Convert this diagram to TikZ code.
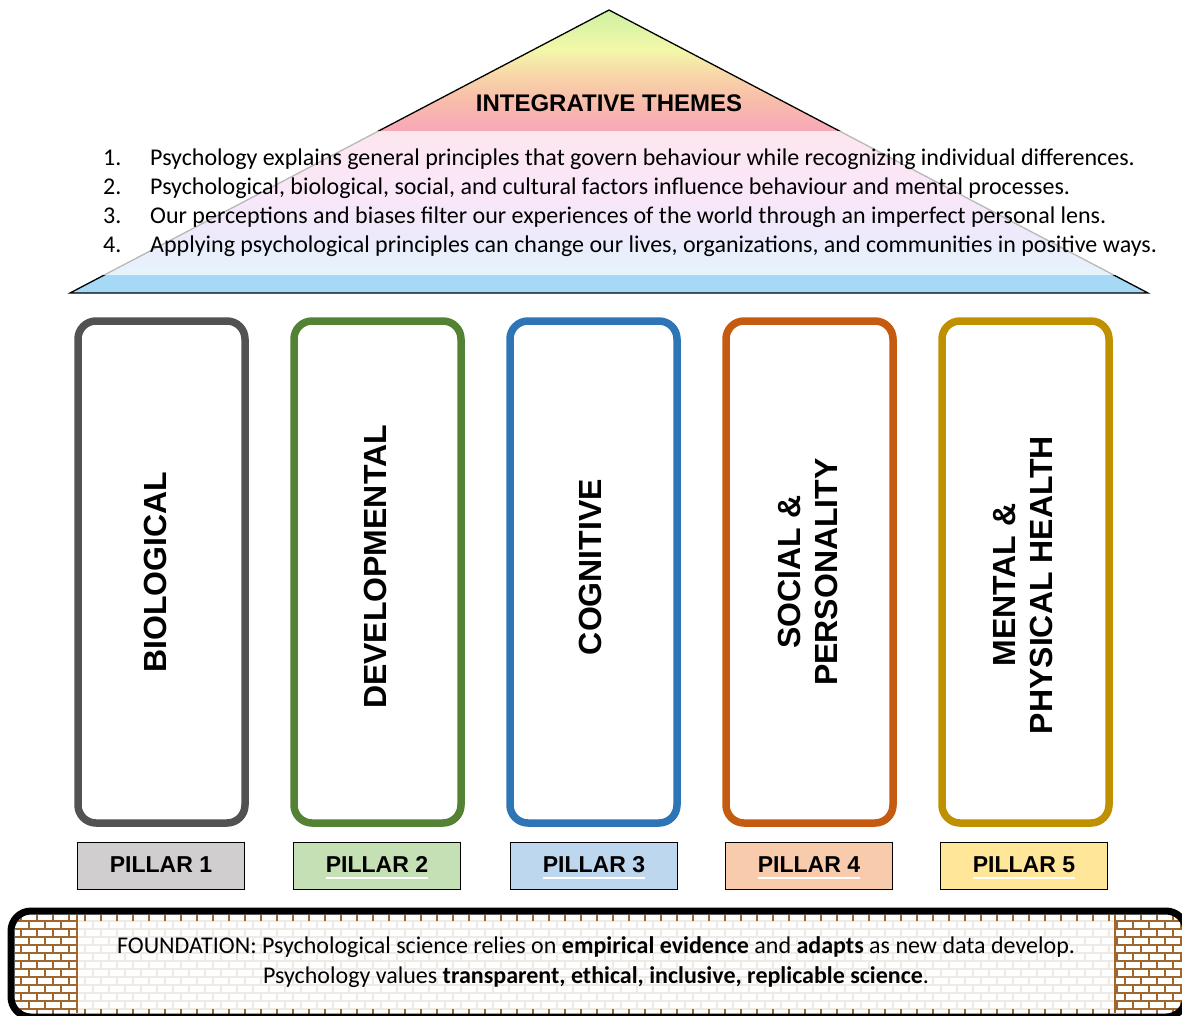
\documentclass[tikz,border=0pt]{standalone}
\usepackage{fontspec}
\setmainfont{Carlito}
\newfontfamily\headfont{Liberation Sans}
\usetikzlibrary{positioning}

\definecolor{roofgreen}{HTML}{CDF0A2}
\definecolor{roofyellow}{HTML}{F3F8A9}
\definecolor{roofpeach}{HTML}{F8D6A8}
\definecolor{roofsalmon}{HTML}{F8BDAA}
\definecolor{roofrose}{HTML}{F8A9B8}
\definecolor{roofpink}{HTML}{F6A6CC}
\definecolor{roofmagenta}{HTML}{F0A8EC}
\definecolor{roofviolet}{HTML}{BDB4F2}
\definecolor{roofblue}{HTML}{A5D9F6}
\definecolor{pillargray}{HTML}{525252}
\definecolor{pillargreen}{HTML}{548235}
\definecolor{pillarblue}{HTML}{2E75B6}
\definecolor{pillarorange}{HTML}{C55A11}
\definecolor{pillargold}{HTML}{BF9000}
\definecolor{taggray}{HTML}{D0CECE}
\definecolor{taggreen}{HTML}{C5E0B4}
\definecolor{tagblue}{HTML}{BDD7EE}
\definecolor{tagorange}{HTML}{F8CBAD}
\definecolor{taggold}{HTML}{FFE699}
\definecolor{brickbrown}{HTML}{A0662B}
\definecolor{brickmortar}{HTML}{F0EAE4}

\pgfdeclareverticalshading{roofshade}{100bp}{%
  color(0bp)=(roofblue); color(28.2bp)=(roofblue);
  color(35bp)=(roofviolet); color(43bp)=(roofmagenta);
  color(52bp)=(roofpink); color(54.2bp)=(roofrose);
  color(59bp)=(roofsalmon); color(63.5bp)=(roofpeach);
  color(68bp)=(roofyellow); color(75bp)=(roofgreen); color(100bp)=(roofgreen)}

% one course of bricks: #1 row, #2 colour
\newcommand{\brickcourse}[2]{%
  \pgfmathtruncatemacro{\brickoff}{8*mod(#1,2)-12}%
  \draw[#2, line width=8pt, dash pattern=on 2pt off 14pt] (\brickoff,917+8*#1) -- (1200,917+8*#1);}

\begin{document}
\begin{tikzpicture}[x=1pt, y=-1pt,
  pillarbox/.style={draw, rounded corners=18pt, line width=7.5pt, minimum width=167pt, minimum height=502pt, inner sep=0pt},
  pillarlabel/.style={rotate=90, align=center, inner sep=0pt, font=\headfont\bfseries\fontsize{32}{36.5}\selectfont},
  tagbox/.style={draw=black, line width=1.5pt, minimum width=167pt, minimum height=47pt, inner sep=0pt},
  tagtext/.style={anchor=base, inner sep=0pt, font=\headfont\bfseries\fontsize{23}{23}\selectfont},
  tagline/.style={white, line width=2pt},
  themeitem/.style={anchor=base west, inner sep=0pt, font=\fontsize{24}{24}\selectfont},
  foundtext/.style={anchor=base, inner sep=0pt, font=\fontsize{24}{24}\selectfont}]

  \useasboundingbox (0,0) rectangle (1182,1015);

  % Roof: shaded triangle with the themes
  \shade[shading=roofshade] (70,293) -- (609,10) -- (1148,293) -- cycle;
  \draw[black, line width=1.3pt] (70,293) -- (609,10) -- (1148,293) -- cycle;
  \fill[white, opacity=0.72] (60,131) rectangle (1172,275);
  \node[anchor=base, inner sep=0pt, font=\headfont\bfseries\fontsize{24}{24}\selectfont] (roofhead) at (609,111.5) {INTEGRATIVE THEMES};

  \node[themeitem] (num1) at (103,165) {1.};
  \node[themeitem] (item1) at (150,165) {Psychology explains general principles that govern behaviour while recognizing individual differences.};
  \node[themeitem] (num2) at (103,194) {2.};
  \node[themeitem] (item2) at (150,194) {Psychological, biological, social, and cultural factors influence behaviour and mental processes.};
  \node[themeitem] (num3) at (103,223) {3.};
  \node[themeitem] (item3) at (150,223) {Our perceptions and biases filter our experiences of the world through an imperfect personal lens.};
  \node[themeitem] (num4) at (103,252) {4.};
  \node[themeitem] (item4) at (150,252) {Applying psychological principles can change our lives, organizations, and communities in positive ways.};

  % Pillars
  \node[pillarbox, draw=pillargray] (pillar1) at (161.5,572) {};
  \node[pillarbox, draw=pillargreen] (pillar2) at (377.5,572) {};
  \node[pillarbox, draw=pillarblue] (pillar3) at (593.5,572) {};
  \node[pillarbox, draw=pillarorange] (pillar4) at (809.5,572) {};
  \node[pillarbox, draw=pillargold] (pillar5) at (1025.5,572) {};

  \node[pillarlabel] (bio) at (155,572) {BIOLOGICAL};
  \node[pillarlabel] (dev) at (375,567) {DEVELOPMENTAL};
  \node[pillarlabel] (cog) at (590,567) {COGNITIVE};
  \node[pillarlabel] (soc) at (808,572) {SOCIAL \&\\PERSONALITY};
  \node[pillarlabel] (mph) at (1023,585) {MENTAL \&\\PHYSICAL HEALTH};

  % Pillar tags
  \node[tagbox, fill=taggray] (tag1) at (161,866) {};
  \node[tagbox, fill=taggreen] (tag2) at (377,866) {};
  \node[tagbox, fill=tagblue] (tag3) at (594,866) {};
  \node[tagbox, fill=tagorange] (tag4) at (809,866) {};
  \node[tagbox, fill=taggold] (tag5) at (1024,866) {};
  \node[tagtext] (tag1txt) at ([yshift=-6pt]tag1.center) {PILLAR 1};
  \node[tagtext] (tag2txt) at ([yshift=-6pt]tag2.center) {PILLAR 2};
  \node[tagtext] (tag3txt) at ([yshift=-6pt]tag3.center) {PILLAR 3};
  \node[tagtext] (tag4txt) at ([yshift=-6pt]tag4.center) {PILLAR 4};
  \node[tagtext] (tag5txt) at ([yshift=-6pt]tag5.center) {PILLAR 5};
  \draw[tagline] ([yshift=-6pt]tag2txt.base west) -- ([yshift=-6pt]tag2txt.base east);
  \draw[tagline] ([yshift=-6pt]tag3txt.base west) -- ([yshift=-6pt]tag3txt.base east);
  \draw[tagline] ([yshift=-6pt]tag4txt.base west) -- ([yshift=-6pt]tag4txt.base east);
  \draw[tagline] ([yshift=-6pt]tag5txt.base west) -- ([yshift=-6pt]tag5txt.base east);

  % Foundation: brick wall behind the text
  \fill[white, rounded corners=20pt] (11,911) rectangle (1186,1017);
  \begin{scope}
    \clip (15,915) rectangle (1182,1013);
    % pale courses
    \foreach \r in {1,...,11} {\brickcourse{\r}{brickmortar}}
    \foreach \r in {0,...,11} {\draw[brickmortar, line width=2pt] (0,921+8*\r) -- (1200,921+8*\r);}
    % brown ticks on top and bottom course
    \brickcourse{0}{brickbrown}
    \brickcourse{12}{brickbrown}
  \end{scope}
  % brown brick columns at both ends
  \foreach \xa/\xb in {15/77, 1115/1182} {
    \begin{scope}
      \clip (\xa,915) rectangle (\xb,1013);
      \fill[white] (\xa,915) rectangle (\xb,1013);
      \foreach \r in {0,...,12} {\brickcourse{\r}{brickbrown}}
      \foreach \r in {0,...,11} {\draw[brickbrown, line width=2pt] (0,921+8*\r) -- (1200,921+8*\r);}
    \end{scope}
  }
  \draw[brickbrown, line width=2pt] (77,915) -- (77,1013);
  \draw[brickbrown, line width=2pt] (1115,915) -- (1115,1013);
  \draw[black, line width=7pt, rounded corners=20pt] (11,911) rectangle (1186,1017);

  \node[foundtext] (found1) at (596,953) {FOUNDATION: Psychological science relies on \textbf{empirical evidence} and \textbf{adapts} as new data develop.};
  \node[foundtext] (found2) at (596,983) {Psychology values \textbf{transparent, ethical, inclusive, replicable science}.};
\end{tikzpicture}
\end{document}
